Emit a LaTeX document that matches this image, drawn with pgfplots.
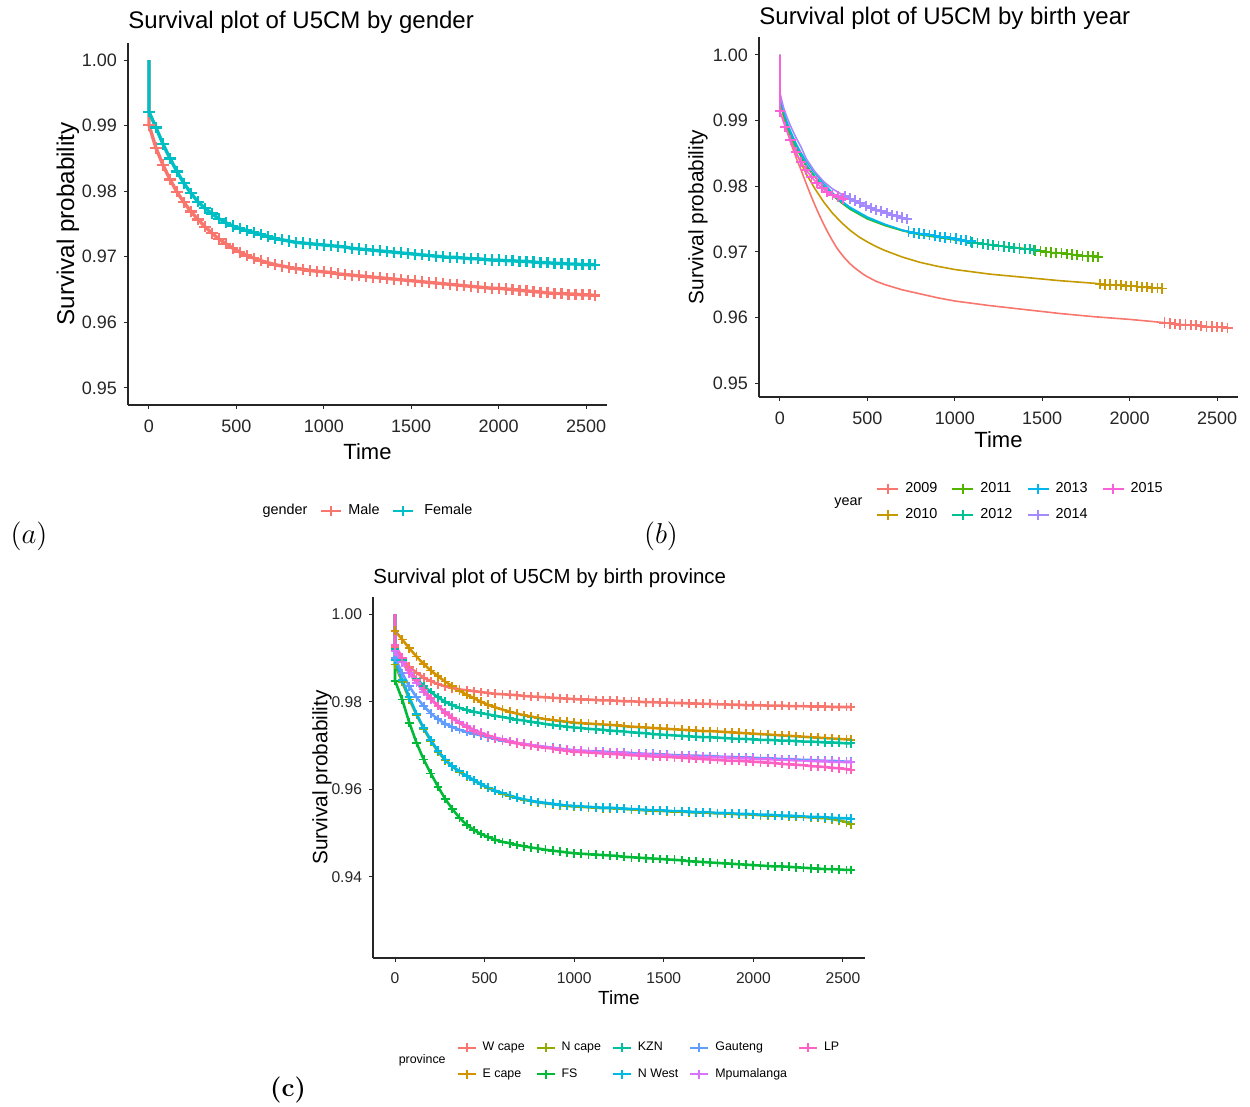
\documentclass[border=0pt]{standalone}
\usepackage{fontspec}
\usepackage{pgfplots}
\usepackage{pgfplotstable}
\pgfplotsset{compat=1.18}
\newfontfamily\arial{Liberation Sans}

\definecolor{cMale}{HTML}{F8766D}
\definecolor{cFemale}{HTML}{00BFC4}
\definecolor{y09}{HTML}{F8766D}
\definecolor{y10}{HTML}{C49A00}
\definecolor{y11}{HTML}{53B400}
\definecolor{y12}{HTML}{00C094}
\definecolor{y13}{HTML}{00B6EB}
\definecolor{y14}{HTML}{A58AFF}
\definecolor{y15}{HTML}{FB61D7}
\definecolor{pW}{HTML}{F8766D}
\definecolor{pE}{HTML}{D39200}
\definecolor{pN}{HTML}{93AA00}
\definecolor{pF}{HTML}{00BA38}
\definecolor{pK}{HTML}{00C19F}
\definecolor{pNW}{HTML}{00B9E3}
\definecolor{pG}{HTML}{619CFF}
\definecolor{pM}{HTML}{DB72FB}
\definecolor{pL}{HTML}{FF61C3}

% Panel (a): gender
\pgfplotstableread{
t m f
0 1 1
0 .9901 .9921
40 .9866 .9897
80 .9840 .9872
120 .9818 .9850
160 .9799 .9830
200 .9783 .9812
240 .9769 .9797
280 .9757 .9784
320 .9746 .9774
360 .9736 .9766
400 .9727 .9758
440 .9720 .9752
480 .9713 .9747
520 .9707 .9743
560 .9702 .9740
600 .9698 .9737
640 .9694 .9734
680 .9691 .9731
720 .9688 .9728
760 .9686 .9726
800 .9684 .9724
840 .9682 .9722
880 .9681 .9721
920 .9679 .9720
960 .9678 .9719
1000 .9677 .9718
1040 .9676 .9717
1080 .9674 .9716
1120 .9673 .9715
1160 .9672 .9713
1200 .9671 .9712
1240 .9670 .9711
1280 .9669 .9710
1320 .9668 .9709
1360 .9667 .9708
1400 .9666 .9707
1440 .9665 .9706
1480 .9664 .9705
1520 .9663 .9704
1560 .9662 .9703
1600 .9661 .9702
1640 .9660 .9701
1680 .9659 .9700
1720 .9658 .9699
1760 .9657 .9699
1800 .9656 .9698
1840 .9655 .9697
1880 .9654 .9697
1920 .9653 .9696
1960 .9652 .9695
2000 .9652 .9695
2040 .9651 .9694
2080 .9650 .9694
2120 .9649 .9693
2160 .9648 .9693
2200 .9647 .9692
2240 .9646 .9691
2280 .9645 .9691
2320 .9644 .9690
2360 .9644 .9690
2400 .9643 .9689
2440 .9643 .9689
2480 .9642 .9688
2520 .9642 .9688
2550 .9641 .9688
}\tabA

% Panel (c): province
\pgfplotstableread{
t W E Nc FS KZN NW G M LP
0 1 1 1 1 1 1 1 1 1
0 .9925 .9962 .9885 .9848 .9920 .9895 .9900 .9915 .9930
40 .9900 .9942 .9845 .9805 .9895 .9850 .9865 .9890 .9900
80 .9880 .9922 .9805 .9752 .9872 .9810 .9835 .9865 .9872
120 .9866 .9903 .9770 .9706 .9852 .9772 .9810 .9843 .9850
160 .9855 .9886 .9738 .9668 .9836 .9740 .9790 .9823 .9828
200 .9847 .9871 .9710 .9636 .9822 .9712 .9773 .9805 .9808
240 .9840 .9858 .9686 .9606 .9810 .9688 .9760 .9790 .9790
280 .9835 .9846 .9666 .9578 .9800 .9668 .9750 .9776 .9775
320 .9831 .9835 .9652 .9555 .9792 .9653 .9742 .9764 .9762
360 .9828 .9825 .9640 .9535 .9786 .9641 .9736 .9753 .9751
400 .9826 .9816 .9630 .9519 .9781 .9631 .9731 .9744 .9742
440 .9824 .9808 .9620 .9507 .9777 .9621 .9727 .9736 .9734
480 .9822 .9800 .9611 .9498 .9774 .9612 .9723 .9729 .9727
520 .9820 .9793 .9603 .9491 .9771 .9604 .9719 .9723 .9721
560 .9818 .9787 .9596 .9485 .9768 .9597 .9715 .9718 .9716
600 .9817 .9782 .9590 .9480 .9765 .9591 .9711 .9714 .9712
640 .9816 .9777 .9585 .9477 .9762 .9586 .9708 .9710 .9708
680 .9815 .9773 .9580 .9473 .9759 .9581 .9705 .9706 .9705
720 .9813 .9769 .9576 .9470 .9757 .9577 .9703 .9704 .9702
760 .9812 .9766 .9573 .9467 .9754 .9574 .9701 .9701 .9700
800 .9811 .9763 .9570 .9465 .9752 .9571 .9699 .9698 .9697
840 .9810 .9760 .9568 .9462 .9749 .9569 .9697 .9696 .9695
880 .9809 .9758 .9566 .9460 .9747 .9567 .9695 .9694 .9693
920 .9808 .9756 .9564 .9458 .9745 .9565 .9693 .9692 .9690
960 .9807 .9754 .9562 .9456 .9743 .9563 .9691 .9690 .9688
1000 .9806 .9752 .9561 .9454 .9741 .9562 .9689 .9689 .9686
1040 .9805 .9751 .9560 .9453 .9740 .9561 .9688 .9688 .9685
1080 .9805 .9750 .9559 .9452 .9738 .9560 .9687 .9687 .9684
1120 .9804 .9749 .9558 .9451 .9737 .9559 .9687 .9686 .9683
1160 .9803 .9748 .9557 .9450 .9736 .9558 .9686 .9685 .9682
1200 .9803 .9747 .9557 .9449 .9734 .9558 .9685 .9684 .9681
1240 .9802 .9746 .9556 .9448 .9733 .9557 .9684 .9684 .9680
1280 .9801 .9744 .9555 .9446 .9732 .9556 .9684 .9683 .9679
1320 .9801 .9743 .9554 .9445 .9730 .9555 .9683 .9682 .9678
1360 .9800 .9742 .9553 .9444 .9729 .9554 .9682 .9681 .9677
1400 .9799 .9741 .9552 .9443 .9728 .9553 .9681 .9680 .9676
1440 .9799 .9740 .9551 .9442 .9726 .9552 .9681 .9679 .9675
1480 .9798 .9739 .9551 .9441 .9725 .9552 .9680 .9679 .9675
1520 .9798 .9738 .9550 .9440 .9724 .9551 .9679 .9678 .9674
1560 .9797 .9737 .9549 .9439 .9723 .9550 .9678 .9677 .9673
1600 .9797 .9736 .9549 .9438 .9722 .9550 .9678 .9677 .9672
1640 .9796 .9735 .9548 .9436 .9721 .9549 .9677 .9676 .9671
1680 .9796 .9734 .9547 .9435 .9720 .9548 .9677 .9675 .9670
1720 .9795 .9733 .9547 .9434 .9719 .9548 .9676 .9675 .9669
1760 .9795 .9733 .9546 .9433 .9719 .9547 .9676 .9674 .9668
1800 .9794 .9732 .9545 .9432 .9718 .9546 .9675 .9673 .9667
1840 .9794 .9731 .9545 .9431 .9717 .9546 .9674 .9673 .9666
1880 .9793 .9730 .9544 .9430 .9716 .9545 .9674 .9672 .9665
1920 .9793 .9729 .9543 .9429 .9715 .9544 .9673 .9671 .9665
1960 .9792 .9728 .9543 .9428 .9715 .9544 .9673 .9671 .9664
2000 .9792 .9727 .9542 .9427 .9714 .9543 .9672 .9670 .9663
2040 .9792 .9726 .9541 .9426 .9713 .9542 .9671 .9669 .9662
2080 .9791 .9725 .9540 .9425 .9713 .9542 .9671 .9669 .9661
2120 .9791 .9724 .9540 .9424 .9712 .9541 .9670 .9668 .9660
2160 .9791 .9723 .9539 .9424 .9711 .9540 .9669 .9668 .9658
2200 .9790 .9722 .9538 .9423 .9711 .9540 .9669 .9667 .9657
2240 .9790 .9721 .9538 .9422 .9710 .9539 .9668 .9666 .9656
2280 .9790 .9720 .9537 .9421 .9709 .9538 .9667 .9666 .9655
2320 .9789 .9719 .9536 .9420 .9709 .9537 .9667 .9665 .9653
2360 .9789 .9718 .9535 .9419 .9708 .9537 .9666 .9664 .9652
2400 .9789 .9717 .9534 .9418 .9707 .9536 .9665 .9664 .9651
2440 .9788 .9716 .9532 .9418 .9707 .9535 .9665 .9663 .9649
2480 .9788 .9715 .9529 .9417 .9706 .9534 .9664 .9663 .9648
2520 .9788 .9714 .9525 .9416 .9705 .9534 .9663 .9662 .9646
2545 .9788 .9713 .9520 .9416 .9705 .9533 .9663 .9662 .9645
}\tabC

\pgfplotsset{
  km/.style={
    scale only axis,
    axis lines=left,
    axis line style={-, line width=0.6pt, black!85},
    tick align=outside,
    major tick length=2pt,
    tick style={black!85, line width=0.5pt},
    xtick={0,500,1000,1500,2000,2500},
    /pgf/number format/assume math mode=true,
    xticklabel style={/pgf/number format/1000 sep={}, yshift=-1.75pt},
    yticklabel style={/pgf/number format/.cd,fixed,fixed zerofill,precision=2},
    legend cell align=left,
    title style={anchor=base west, inner sep=0pt, text=black},
    ylabel style={anchor=center},
    xlabel style={anchor=center},
  },
  fp/.style={forget plot},
}

\begin{document}
\begin{tikzpicture}
\path[use as bounding box] (0,0) rectangle (625pt,-553.5pt);

% ---------------- (a) ----------------
\begin{axis}[km,
  at={(64pt,-202.5pt)}, anchor=south west,
  width=239.5pt, height=181pt,
  xmin=-120, xmax=2620, ymin=0.9474, ymax=1.0026,
  ytick={0.95,0.96,0.97,0.98,0.99,1.00},
  tick label style={font=\arial\fontsize{9}{10}\selectfont, text=black!85},
  title={\arial\fontsize{12}{14}\selectfont Survival plot of U5CM by gender},
  title style={at={(axis description cs:0,1)}, yshift=1.5pt},
  xlabel={\arial\fontsize{11}{13}\selectfont Time},
  xlabel style={at={(axis description cs:0.5,-0.1298)}},
  ylabel={\arial\fontsize{12.1}{14}\selectfont Survival probability},
  ylabel style={at={(axis description cs:-0.1253,0.5)}},
  legend image code/.code={\draw[mark repeat=2,mark phase=2,#1] plot coordinates {(0pt,0pt) (5pt,0pt) (10pt,0pt)};},
  legend style={at={(0.5,-0.2928)}, anchor=center, draw=none, fill=none,
    font=\arial\fontsize{7.2}{8}\selectfont, legend columns=-1,
    nodes={inner sep=3pt},
    /tikz/every even column/.append style={column sep=3pt}},
]
\addplot[fp, cMale, line width=1.7pt, mark=+, mark phase=2, mark size=2.8pt, mark options={line width=1.1pt}] table[x=t,y=m]{\tabA};
\addplot[fp, cFemale, line width=1.7pt, mark=+, mark phase=2, mark size=2.8pt, mark options={line width=1.1pt}] table[x=t,y=f]{\tabA};
\addlegendimage{empty legend}\addlegendentry{gender}
\addlegendimage{cMale, line width=1.4pt, mark=+, mark size=2.6pt, mark options={line width=1pt}}\addlegendentry{Male}
\addlegendimage{cFemale, line width=1.4pt, mark=+, mark size=2.6pt, mark options={line width=1pt}}\addlegendentry{\hspace{2pt}Female}
\end{axis}

% ---------------- (b) ----------------
\begin{axis}[km,
  at={(379.5pt,-198.5pt)}, anchor=south west,
  width=239.5pt, height=180pt,
  xmin=-120, xmax=2620, ymin=0.94787, ymax=1.00274,
  ytick={0.95,0.96,0.97,0.98,0.99,1.00},
  tick label style={font=\arial\fontsize{9}{10}\selectfont, text=black!85},
  title={\arial\fontsize{12}{14}\selectfont Survival plot of U5CM by birth year},
  title style={at={(axis description cs:0,1)}, yshift=0pt},
  xlabel={\arial\fontsize{11}{13}\selectfont Time},
  xlabel style={at={(axis description cs:0.5,-0.1194)}},
  ylabel={\arial\fontsize{10.4}{12}\selectfont Survival probability},
  ylabel style={at={(axis description cs:-0.1273,0.5)}},
  legend image code/.code={\draw[mark repeat=2,mark phase=2,#1] plot coordinates {(0pt,0pt) (5.25pt,0pt) (10.5pt,0pt)};},
  legend style={at={(0.5,-0.2917)}, anchor=center, draw=none, fill=none,
    font=\arial\fontsize{7.2}{8}\selectfont, legend columns=2, row sep=0.5pt,
    nodes={inner sep=3pt},
    /tikz/every even column/.append style={column sep=4pt}},
  transpose legend,
]
% 2009
\addplot[fp, y09, line width=0.8pt] coordinates {(0,1)(0,.9935)(20,.9905)(40,.9885)(60,.9867)(90,.9845)(120,.9825)(150,.9804)(175,.9787)(200,.9771)(225,.9756)(250,.9742)(275,.9729)(300,.9717)(325,.9706)(350,.9697)(375,.9689)(400,.9682)(425,.9676)(450,.9671)(475,.9666)(500,.9662)(550,.9655)(600,.9650)(700,.9642)(800,.9636)(900,.9630)(1000,.9625)(1200,.9618)(1400,.9612)(1600,.9606)(1800,.9601)(2000,.9597)(2200,.9592)(2230,.9591)(2260,.9590)(2290,.9589)(2320,.9589)(2350,.9588)(2380,.9588)(2410,.9587)(2440,.9586)(2470,.9586)(2500,.9585)(2530,.9585)(2560,.9584)};
\addplot[fp, y09, only marks, mark=+, mark size=2.6pt, mark options={line width=0.9pt}] coordinates {(2200,.9592)(2230,.9591)(2260,.9590)(2290,.9589)(2320,.9589)(2350,.9588)(2380,.9588)(2410,.9587)(2440,.9586)(2470,.9586)(2500,.9585)(2530,.9585)(2560,.9584)};
% 2010
\addplot[fp, y10, line width=0.8pt] coordinates {(0,1)(0,.9935)(20,.9908)(40,.9890)(60,.9874)(90,.9853)(120,.9835)(150,.9819)(200,.9796)(250,.9776)(300,.9759)(350,.9745)(400,.9733)(450,.9723)(500,.9715)(550,.9708)(600,.9702)(700,.9692)(800,.9684)(900,.9678)(1000,.9673)(1200,.9666)(1400,.9661)(1600,.9656)(1800,.9652)(1830,.9651)(1860,.9650)(1890,.9650)(1920,.9649)(1950,.9649)(1980,.9648)(2010,.9648)(2040,.9647)(2070,.9646)(2100,.9646)(2130,.9645)(2160,.9645)(2185,.9644)};
\addplot[fp, y10, only marks, mark=+, mark size=2.6pt, mark options={line width=0.9pt}] coordinates {(1830,.9651)(1860,.9650)(1890,.9650)(1920,.9649)(1950,.9649)(1980,.9648)(2010,.9648)(2040,.9647)(2070,.9646)(2100,.9646)(2130,.9645)(2160,.9645)(2185,.9644)};
% 2011
\addplot[fp, y11, line width=0.8pt] coordinates {(0,1)(0,.9935)(20,.9910)(40,.9893)(60,.9878)(90,.9860)(120,.9845)(150,.9830)(200,.9814)(250,.9799)(300,.9786)(350,.9775)(400,.9765)(500,.9750)(600,.9740)(700,.9732)(800,.9726)(1000,.9718)(1200,.9711)(1400,.9705)(1460,.9702)(1490,.9701)(1520,.9700)(1550,.9699)(1580,.9698)(1610,.9698)(1640,.9697)(1670,.9696)(1700,.9695)(1730,.9694)(1760,.9693)(1790,.9693)(1820,.9692)};
\addplot[fp, y11, only marks, mark=+, mark size=2.6pt, mark options={line width=0.9pt}] coordinates {(1460,.9702)(1490,.9701)(1520,.9700)(1550,.9699)(1580,.9698)(1610,.9698)(1640,.9697)(1670,.9696)(1700,.9695)(1730,.9694)(1760,.9693)(1790,.9693)(1820,.9692)};
% 2012
\addplot[fp, y12, line width=0.8pt] coordinates {(0,1)(0,.9935)(20,.9912)(40,.9895)(60,.9880)(90,.9862)(120,.9847)(150,.9833)(200,.9815)(250,.9800)(300,.9787)(350,.9776)(400,.9766)(500,.9751)(600,.9741)(700,.9733)(800,.9727)(1000,.9719)(1100,.9714)(1130,.9713)(1160,.9712)(1190,.9711)(1220,.9710)(1250,.9709)(1280,.9708)(1310,.9707)(1340,.9706)(1370,.9705)(1400,.9704)(1430,.9704)(1455,.9703)};
\addplot[fp, y12, only marks, mark=+, mark size=2.6pt, mark options={line width=0.9pt}] coordinates {(1100,.9714)(1130,.9713)(1160,.9712)(1190,.9711)(1220,.9710)(1250,.9709)(1280,.9708)(1310,.9707)(1340,.9706)(1370,.9705)(1400,.9704)(1430,.9704)(1455,.9703)};
% 2013
\addplot[fp, y13, line width=0.8pt] coordinates {(0,1)(0,.9938)(20,.9915)(40,.9898)(60,.9884)(90,.9866)(120,.9851)(150,.9838)(200,.9820)(250,.9804)(300,.9790)(350,.9778)(400,.9768)(500,.9753)(600,.9742)(700,.9733)(735,.9731)(765,.9729)(795,.9728)(825,.9727)(855,.9726)(885,.9725)(915,.9723)(945,.9722)(975,.9721)(1005,.9720)(1035,.9718)(1065,.9717)(1090,.9716)};
\addplot[fp, y13, only marks, mark=+, mark size=2.6pt, mark options={line width=0.9pt}] coordinates {(735,.9731)(765,.9729)(795,.9728)(825,.9727)(855,.9726)(885,.9725)(915,.9723)(945,.9722)(975,.9721)(1005,.9720)(1035,.9718)(1065,.9717)(1090,.9716)};
% 2014
\addplot[fp, y14, line width=0.8pt] coordinates {(0,1)(0,.9942)(20,.9920)(40,.9905)(60,.9892)(90,.9875)(120,.9860)(150,.9842)(200,.9822)(250,.9807)(300,.9796)(350,.9788)(370,.9785)(400,.9781)(430,.9778)(460,.9774)(490,.9770)(520,.9767)(550,.9764)(580,.9762)(610,.9759)(640,.9756)(670,.9754)(700,.9752)(725,.9750)};
\addplot[fp, y14, only marks, mark=+, mark size=2.6pt, mark options={line width=0.9pt}] coordinates {(370,.9785)(400,.9781)(430,.9778)(460,.9774)(490,.9770)(520,.9767)(550,.9764)(580,.9762)(610,.9759)(640,.9756)(670,.9754)(700,.9752)(725,.9750)};
% 2015
\addplot[fp, y15, line width=0.8pt] coordinates {(0,1)(0,.9914)(30,.9890)(60,.9870)(90,.9852)(120,.9837)(150,.9825)(180,.9814)(210,.9805)(240,.9797)(270,.9791)(300,.9787)(330,.9784)(360,.9781)};
\addplot[fp, y15, only marks, mark=+, mark size=2.6pt, mark options={line width=0.9pt}] coordinates {(0,.9914)(30,.9890)(60,.9870)(90,.9852)(120,.9837)(150,.9825)(180,.9814)(210,.9805)(240,.9797)(270,.9791)(300,.9787)(330,.9784)(360,.9781)};
\addlegendimage{empty legend}\addlegendentry{\raisebox{-9pt}[0pt][0pt]{year}}
\addlegendimage{empty legend}\addlegendentry{}
\addlegendimage{y09, line width=1pt, mark=+, mark size=2.6pt}\addlegendentry{2009}
\addlegendimage{y10, line width=1pt, mark=+, mark size=2.6pt}\addlegendentry{2010}
\addlegendimage{y11, line width=1pt, mark=+, mark size=2.6pt}\addlegendentry{2011}
\addlegendimage{y12, line width=1pt, mark=+, mark size=2.6pt}\addlegendentry{2012}
\addlegendimage{y13, line width=1pt, mark=+, mark size=2.6pt}\addlegendentry{2013}
\addlegendimage{y14, line width=1pt, mark=+, mark size=2.6pt}\addlegendentry{2014}
\addlegendimage{y15, line width=1pt, mark=+, mark size=2.6pt}\addlegendentry{2015}
\end{axis}

% ---------------- (c) ----------------
\begin{axis}[km,
  at={(186.5pt,-479pt)}, anchor=south west,
  width=246pt, height=180.5pt,
  xmin=-123, xmax=2623, ymin=0.9215, ymax=1.0039,
  ytick={0.94,0.96,0.98,1.00},
  tick label style={font=\arial\fontsize{7.8}{9}\selectfont, text=black!85},
  title={\arial\fontsize{10.2}{12}\selectfont Survival plot of U5CM by birth province},
  title style={at={(axis description cs:0,1)}, yshift=0.5pt},
  xlabel={\arial\fontsize{9.5}{11}\selectfont Time},
  xlabel style={at={(axis description cs:0.5,-0.1108)}},
  ylabel={\arial\fontsize{10.4}{12}\selectfont Survival probability},
  ylabel style={at={(axis description cs:-0.1037,0.5)}},
  legend image code/.code={\draw[mark repeat=2,mark phase=2,#1] plot coordinates {(0pt,0pt) (4.5pt,0pt) (9pt,0pt)};},
  legend style={at={(0.5,-0.2853)}, anchor=center, draw=none, fill=none,
    font=\arial\fontsize{6.2}{7}\selectfont, legend columns=2, row sep=1.5pt,
    nodes={inner sep=3pt},
    /tikz/every even column/.append style={column sep=2.5pt}},
  transpose legend,
  cstyle/.style={fp, line width=1.3pt, mark=+, mark phase=2, mark size=2.2pt, mark options={line width=0.9pt}},
]
\addplot[cstyle, pW] table[x=t,y=W]{\tabC};
\addplot[cstyle, pE] table[x=t,y=E]{\tabC};
\addplot[cstyle, pN] table[x=t,y=Nc]{\tabC};
\addplot[cstyle, pF] table[x=t,y=FS]{\tabC};
\addplot[cstyle, pK] table[x=t,y=KZN]{\tabC};
\addplot[cstyle, pNW] table[x=t,y=NW]{\tabC};
\addplot[cstyle, pG] table[x=t,y=G]{\tabC};
\addplot[cstyle, pM] table[x=t,y=M]{\tabC};
\addplot[cstyle, pL] table[x=t,y=LP]{\tabC};
\addlegendimage{empty legend}\addlegendentry{\raisebox{-8.5pt}[0pt][0pt]{province}}
\addlegendimage{empty legend}\addlegendentry{}
\addlegendimage{pW, line width=1pt, mark=+, mark size=2.1pt}\addlegendentry{W cape}
\addlegendimage{pE, line width=1pt, mark=+, mark size=2.1pt}\addlegendentry{E cape}
\addlegendimage{pN, line width=1pt, mark=+, mark size=2.1pt}\addlegendentry{N cape}
\addlegendimage{pF, line width=1pt, mark=+, mark size=2.1pt}\addlegendentry{FS}
\addlegendimage{pK, line width=1pt, mark=+, mark size=2.1pt}\addlegendentry{KZN}
\addlegendimage{pNW, line width=1pt, mark=+, mark size=2.1pt}\addlegendentry{N West}
\addlegendimage{pG, line width=1pt, mark=+, mark size=2.1pt}\addlegendentry{Gauteng}
\addlegendimage{pM, line width=1pt, mark=+, mark size=2.1pt}\addlegendentry{Mpumalanga}
\addlegendimage{pL, line width=1pt, mark=+, mark size=2.1pt}\addlegendentry{LP}
\end{axis}

\node[font=\fontsize{13.5}{15}\selectfont] at (14.5pt,-268pt) {$(a)$};
\node[font=\fontsize{13.5}{15}\selectfont] at (330.5pt,-268pt) {$(b)$};
\node[font=\fontsize{13}{15}\selectfont\bfseries] at (144pt,-545pt) {(c)};
\end{tikzpicture}
\end{document}
